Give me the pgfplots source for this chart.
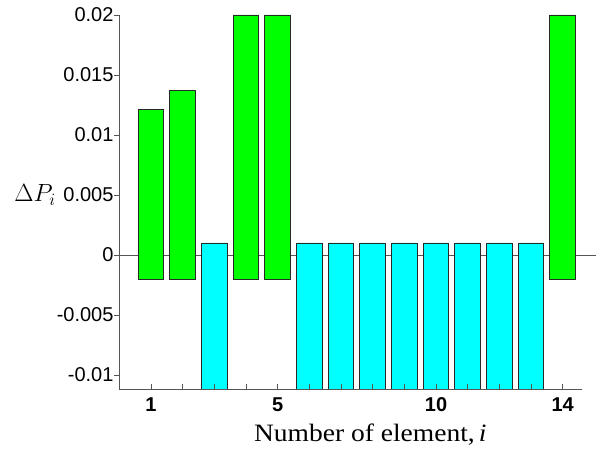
\documentclass[border=0pt]{standalone}
\usepackage{pgfplots}
\pgfplotsset{compat=1.18}
\usepackage{pgfplotstable}
\usepackage{fontspec}
\setmainfont{Liberation Sans}
\newfontfamily\seriffont[FakeStretch=1.1]{Liberation Serif}
\definecolor{bargreen}{RGB}{0,255,0}
\definecolor{barcyan}{RGB}{0,255,255}
\definecolor{axgray}{RGB}{85,85,85}
\definecolor{bardraw}{RGB}{40,40,40}
\pgfplotstableread{
i base green cyan
1 -0.002 0.01415 0
2 -0.002 0.01571 0
3 -0.0112 0 0.0122
4 -0.002 0.022 0
5 -0.002 0.022 0
6 -0.0112 0 0.0122
7 -0.0112 0 0.0122
8 -0.0112 0 0.0122
9 -0.0112 0 0.0122
10 -0.0112 0 0.0122
11 -0.0112 0 0.0122
12 -0.0112 0 0.0122
13 -0.0112 0 0.0122
14 -0.002 0.022 0
}\datatable
\begin{document}
\begin{tikzpicture}
\begin{axis}[
 scale only axis, width=462.7pt, height=374.3pt,
 xmin=-0.01, xmax=14.6, ymin=-0.0112, ymax=0.02,
 axis on top,
 axis x line*=bottom, axis y line*=left,
 axis line style={-, axgray, line width=0.9pt},
 xtick={1,...,14}, xticklabels={1,,,,5,,,,,10,,,,14},
 ytick={-0.01,-0.005,0,0.005,0.01,0.015,0.02},
 yticklabels={-0.01,-0.005,0,0.005,0.01,0.015,0.02},
 scaled y ticks=false,
 xtick align=inside, ytick align=outside,
 tick style={axgray, line width=0.7pt},
 major tick length=5pt,
 yticklabel style={font=\fontsize{20}{24}\selectfont, xshift=3pt},
 xticklabel style={font=\fontsize{20}{24}\selectfont\bfseries, yshift=-5pt},
 ybar stacked, stack negative=on previous, bar width=0.81,
 clip=false,
]
\addplot[draw=none, fill=none] table[x=i, y=base] {\datatable};
\addplot[fill=bargreen, draw=bardraw, line width=0.8pt] table[x=i, y=green] {\datatable};
\addplot[fill=barcyan, draw=bardraw, line width=0.8pt] table[x=i, y=cyan] {\datatable};
\draw[axgray, line width=0.8pt] (axis cs:-0.01,0) -- (axis cs:15.05,0);
\node[font=\fontsize{23}{28}\selectfont] at ([xshift=-84pt]axis cs:-0.01,0.005) {$\Delta P_i$};
\node[anchor=base, font=\seriffont\fontsize{25}{30}\selectfont] at ([xshift=20pt, yshift=-52.4pt]rel axis cs:0.5,0) {Number of element,\,\textit{i}};
\end{axis}
\pgfresetboundingbox
\path ([shift={(-119pt,-60.7pt)}]current axis.south west) rectangle ([shift={(25.3pt,15pt)}]current axis.north east);
\end{tikzpicture}
\end{document}
